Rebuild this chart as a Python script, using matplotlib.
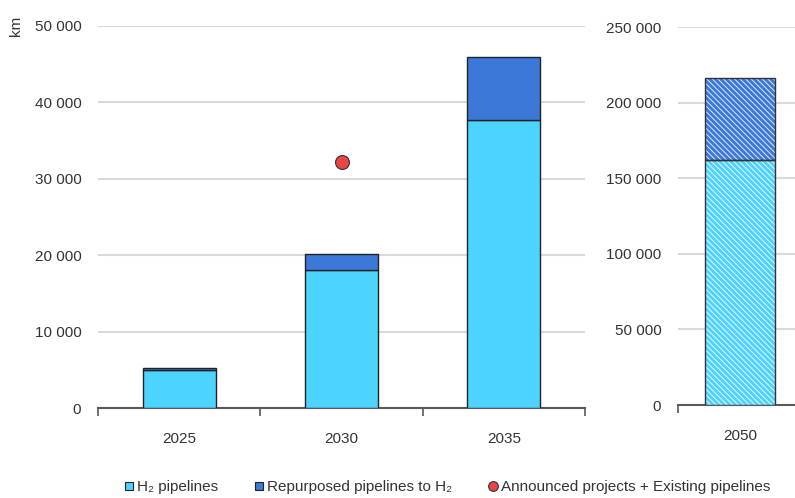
import numpy as np
import matplotlib.pyplot as plt
from matplotlib.lines import Line2D

plt.rcParams['font.family'] = ['Liberation Sans', 'DejaVu Sans']
plt.rcParams['hatch.linewidth'] = 0.7

# Data (km)
years = ["2025", "2030", "2035"]
h2_new = [5000, 18000, 37700]
repurposed = [200, 2200, 8300]
announced_year = "2030"
announced_value = 32200

year_2050 = ["2050"]
h2_new_2050 = [162000]
repurposed_2050 = [54000]

light = "#4dd3ff"
dark = "#3c78d8"
red = "#e84545"
grid = "#d9d9d9"
axis_col = "#595959"
text_col = "#333333"

fig = plt.figure(figsize=(7.95, 4.98), dpi=100)
ax = fig.add_axes([98 / 795, 1 - 408 / 498, 487 / 795, (408 - 26) / 498])
ax2 = fig.add_axes([678 / 795, 1 - 405 / 498, 117 / 795, (405 - 27) / 498])

# left panel
x = np.arange(len(years))
ax.bar(x, h2_new, width=0.45, color=light, edgecolor="#222222", linewidth=1, zorder=3)
ax.bar(x, repurposed, bottom=h2_new, width=0.45, color=dark, edgecolor="#222222", linewidth=1, zorder=3)
ax.plot(years.index(announced_year), announced_value, "o", color=red, markersize=10,
        markeredgecolor="#333333", markeredgewidth=0.8, zorder=4)
ax.set_xlim(-0.5, len(years) - 0.5)
ax.set_ylim(0, 50000)
ax.set_yticks(np.arange(0, 50001, 10000))
ax.set_yticklabels([f"{v:,}".replace(",", " ") for v in range(0, 50001, 10000)])
ax.set_xticks(x)
ax.set_xticklabels(years)
ax.set_xticks(np.arange(-0.5, len(years), 1.0), minor=True)
ax.tick_params(axis="x", which="major", length=0, pad=17, labelsize=11, colors=text_col)
ax.tick_params(axis="x", which="minor", length=6, width=1.2, color=axis_col)
ax.tick_params(axis="y", length=0, pad=12, labelsize=11, colors=text_col)
ax.yaxis.grid(True, color=grid, linewidth=1.5, zorder=0)
ax.set_axisbelow(True)
for s in ["top", "right", "left"]:
    ax.spines[s].set_visible(False)
ax.spines["bottom"].set_color(axis_col)
ax.spines["bottom"].set_linewidth(1.5)
fig.text(16 / 795, 1 - 26 / 498, "km", rotation=90, ha="center", va="center",
         fontsize=11, color=text_col)

# right panel (2050)
x2 = np.arange(len(year_2050))
w2 = 0.57
ax2.bar(x2, h2_new_2050, width=w2, color=light, linewidth=0, zorder=3)
ax2.bar(x2, repurposed_2050, bottom=h2_new_2050, width=w2, color=dark, linewidth=0, zorder=3)
ax2.bar(x2, h2_new_2050, width=w2, color="none", edgecolor="#e8f8ff", hatch="\\\\\\\\\\\\",
        linewidth=0, zorder=4)
ax2.bar(x2, repurposed_2050, bottom=h2_new_2050, width=w2, color="none", edgecolor="#dfe8fa",
        hatch="\\\\\\\\\\\\", linewidth=0, zorder=4)
ax2.bar(x2, h2_new_2050, width=w2, fill=False, edgecolor="#333333", linewidth=1, zorder=5)
ax2.bar(x2, repurposed_2050, bottom=h2_new_2050, width=w2, fill=False, edgecolor="#333333",
        linewidth=1, zorder=5)
ax2.set_xlim(-0.5, 0.443)
ax2.set_ylim(0, 250000)
ax2.set_yticks(np.arange(0, 250001, 50000))
ax2.set_yticklabels([f"{v:,}".replace(",", " ") for v in range(0, 250001, 50000)])
ax2.set_xticks(x2)
ax2.set_xticklabels(year_2050)
ax2.set_xticks([-0.5], minor=True)
ax2.tick_params(axis="x", which="major", length=0, pad=17, labelsize=11, colors=text_col)
ax2.tick_params(axis="x", which="minor", length=6, width=1.2, color=axis_col)
ax2.tick_params(axis="y", length=0, pad=12, labelsize=11, colors=text_col)
ax2.yaxis.grid(True, color=grid, linewidth=1.5, zorder=0)
ax2.set_axisbelow(True)
for s in ["top", "right", "left"]:
    ax2.spines[s].set_visible(False)
ax2.spines["bottom"].set_color(axis_col)
ax2.spines["bottom"].set_linewidth(1.5)

# legend
handles = [
    Line2D([], [], marker="s", linestyle="none", markersize=6, markerfacecolor=light,
           markeredgecolor="#222222", markeredgewidth=0.8),
    Line2D([], [], marker="s", linestyle="none", markersize=6, markerfacecolor=dark,
           markeredgecolor="#222222", markeredgewidth=0.8),
    Line2D([], [], marker="o", linestyle="none", markersize=7, markerfacecolor=red,
           markeredgecolor="#333333", markeredgewidth=0.8),
]
labels = ["H₂ pipelines", "Repurposed pipelines to H₂", "Announced projects + Existing pipelines"]
fig.legend(handles, labels, loc="center left", bbox_to_anchor=(108 / 795, 1 - 487 / 498),
           ncol=3, frameon=False, fontsize=11, handletextpad=0.0, columnspacing=2.2,
           handlelength=1.0, labelcolor=text_col)

fig.savefig("out.png", dpi=100)
